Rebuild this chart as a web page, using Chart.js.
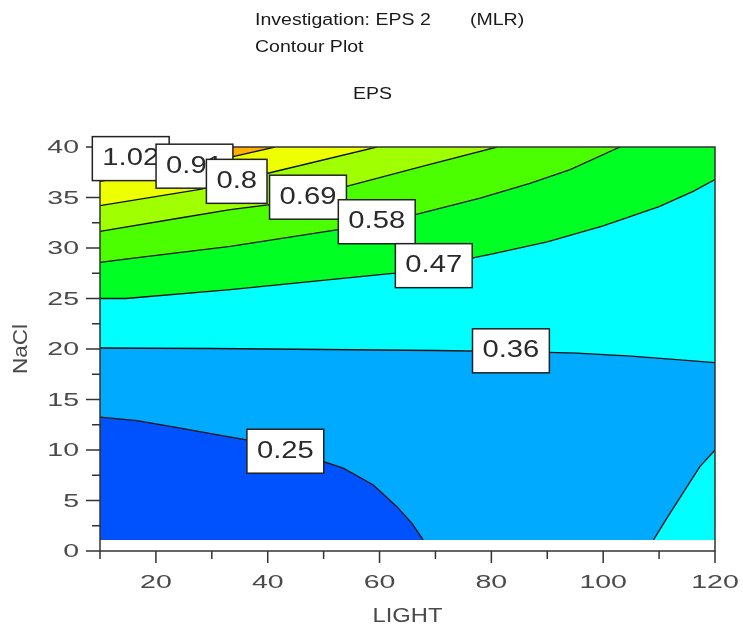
<!DOCTYPE html>
<html>
<head>
<meta charset="utf-8">
<script src="https://cdn.jsdelivr.net/npm/chart.js@4"></script>
<style>
  html, body { margin: 0; padding: 0; background: #fff; }
  #wrap { width: 743px; height: 626px; position: relative; }
</style>
</head>
<body>
<div id="wrap"><canvas id="contour"></canvas></div>
<script>
// 响应面等高线 (LIGHT x NaCl -> EPS)
const levels = [0.25, 0.36, 0.47, 0.58, 0.69, 0.8, 0.91, 1.02];

// 各等高线上的点 [LIGHT, NaCl]
const contour025 = [[10,13.25],[16.6,12.9],[23.1,12.3],[30.3,11.57],[36.2,11.0],[50,8.85],[53.5,8.2],[58.9,6.54],[63.1,4.39],[65.8,2.74],[67.8,1.1]];
const contour036 = [[10,20.1],[30,20.05],[50,19.95],[70,19.85],[85,19.75],[95.3,19.6],[105,19.3],[112,19.0],[120,18.65]];
const contour036b = [[109,1.1],[111.4,3.25],[115,6.38],[117.3,8.35],[120,10]];
const contour047 = [[10,25.0],[14.6,25.0],[33.3,25.87],[62.8,27.52],[76.5,29.0],[80,29.4],[90,30.6],[100,32.2],[110,34.1],[116.1,35.61],[120,36.77]];
const contour058 = [[10,28.57],[16,29.0],[33.3,30.16],[52.6,31.81],[66.4,33.3],[78,34.95],[86.9,36.4],[94.1,37.76],[103,40]];
const contour069 = [[10,31.65],[24.3,32.97],[33.3,33.8],[40.4,34.3],[54.1,36.1],[67.8,38.1],[81,40]];
const contour080 = [[10,34.2],[27.9,35.8],[40.4,37.45],[59.5,40]];
const contour091 = [[10,36.6],[33.8,39.05],[41.3,40]];
const contour102 = [[10,39.3],[15,40]];

// 坐标轴刻度
const lightTicks = [20, 40, 60, 80, 100, 120];
const lightMinorTicks = [10, 30, 50, 70, 90, 110];
const naclTicks = [0, 5, 10, 15, 20, 25, 30, 35, 40];
const naclMinorTicks = [2.5, 7.5, 12.5, 17.5, 22.5, 27.5, 32.5, 37.5];

// 数据范围
const lightRange = [10, 120];
const naclRange = [1.1, 40];

// 标签位置 (数据坐标)
const labelAnchors = {
  '0.25': [43.15, 9.88], '0.36': [83.5, 19.82], '0.47': [69.7, 28.25], '0.58': [59.5, 32.6],
  '0.69': [47.2, 35.03], '0.8': [34.45, 36.6], '0.91': [26.9, 38.1], '1.02': [15.5, 38.85]
};

const [x0, x1] = lightRange;
const [y0, y1] = naclRange;
const pts = arr => arr.map(([x, y]) => ({ x, y }));

// 填色区域: 等高线 + 边角点
const regions = [
  { poly: [[x0,y0],[x1,y0],[x1,y1],[x0,y1]], color: '#00aaff' },
  { poly: [...contour025, [x0,y0]], color: '#0052ff' },
  { poly: [...contour036, [x1,y1],[x0,y1]], color: '#00ffff' },
  { poly: [...contour036b, [x1,y0]], color: '#00ffff' },
  { poly: [...contour047, [x1,y1],[x0,y1]], color: '#00ff22' },
  { poly: [...contour058, [x0,y1]], color: '#4cff00' },
  { poly: [...contour069, [x0,y1]], color: '#a0ff00' },
  { poly: [...contour080, [x0,y1]], color: '#eeff00' },
  { poly: [...contour091, [x0,y1]], color: '#ffb000' },
  { poly: [...contour102, [x0,y1]], color: '#ff6600' }
];

const lines = [contour025, contour036, contour036b, contour047, contour058, contour069, contour080, contour091, contour102];

const datasets = [];
regions.forEach((r, i) => {
  datasets.push({
    data: pts(r.poly),
    fill: 'shape',
    backgroundColor: r.color,
    borderColor: 'rgba(0,0,0,0)',
    borderWidth: 1,
    pointRadius: 0,
    tension: 0,
    order: 100 - i
  });
});
lines.forEach(l => {
  datasets.push({
    data: pts(l),
    fill: false,
    borderColor: '#111',
    borderWidth: 1.3,
    pointRadius: 0,
    tension: 0,
    order: 1
  });
});

// 横向拉伸文字
function stretchText(ctx, text, x, y, sx, align) {
  ctx.save();
  ctx.translate(x, y);
  ctx.scale(sx, 1);
  ctx.textAlign = align;
  ctx.fillText(text, 0, 0);
  ctx.restore();
}

const decor = {
  id: 'decor',
  beforeDraw(chart) {
    const ctx = chart.ctx;
    ctx.save();
    ctx.fillStyle = '#fff';
    ctx.fillRect(0, 0, chart.width, chart.height);
    ctx.fillStyle = '#1a1a1a';
    ctx.font = '16px "Liberation Sans", Arial, sans-serif';
    ctx.textBaseline = 'middle';
    stretchText(ctx, 'Investigation: EPS 2', 255, 21, 1.22, 'left');
    stretchText(ctx, '(MLR)', 470, 21, 1.22, 'left');
    stretchText(ctx, 'Contour Plot', 255, 47.5, 1.22, 'left');
    stretchText(ctx, 'EPS', 372.5, 95, 1.22, 'center');
    ctx.restore();
  },
  afterDatasetsDraw(chart) {
    const ctx = chart.ctx;
    const xs = chart.scales.x, ys = chart.scales.y;
    const { left, right, top, bottom } = chart.chartArea;
    ctx.save();

    // 边框和坐标轴
    ctx.strokeStyle = '#333';
    ctx.lineWidth = 1.5;
    ctx.beginPath();
    ctx.moveTo(left, top); ctx.lineTo(right, top); ctx.lineTo(right, bottom);
    ctx.lineTo(left, bottom); ctx.closePath();
    ctx.stroke();

    // 刻度线
    ctx.beginPath();
    naclTicks.forEach(v => { const py = ys.getPixelForValue(v); ctx.moveTo(left - 14, py); ctx.lineTo(left, py); });
    naclMinorTicks.forEach(v => { const py = ys.getPixelForValue(v); ctx.moveTo(left - 8, py); ctx.lineTo(left, py); });
    lightTicks.forEach(v => { const px = xs.getPixelForValue(v); ctx.moveTo(px, bottom); ctx.lineTo(px, bottom + 12); });
    lightMinorTicks.forEach(v => { const px = xs.getPixelForValue(v); ctx.moveTo(px, bottom); ctx.lineTo(px, bottom + 8); });
    ctx.stroke();

    // 刻度标签
    ctx.fillStyle = '#4a4a4a';
    ctx.font = '19px "Liberation Sans", Arial, sans-serif';
    ctx.textBaseline = 'middle';
    naclTicks.forEach(v => stretchText(ctx, String(v), left - 21, ys.getPixelForValue(v) + 1, 1.5, 'right'));
    lightTicks.forEach(v => stretchText(ctx, String(v), xs.getPixelForValue(v), bottom + 32, 1.5, 'center'));

    // 轴标题
    ctx.font = '21px "Liberation Sans", Arial, sans-serif';
    stretchText(ctx, 'LIGHT', (left + right) / 2, bottom + 65, 1.13, 'center');
    ctx.save();
    ctx.translate(21, (top + bottom) / 2);
    ctx.rotate(-Math.PI / 2);
    stretchText(ctx, 'NaCl', 0, 0, 1.07, 'center');
    ctx.restore();

    // 等高线数值标签
    ctx.font = '23px "Liberation Sans", Arial, sans-serif';
    ctx.lineWidth = 1.5;
    const sx = 1.27;
    levels.slice().reverse().forEach(lv => {
      const txt = String(lv);
      const [ax, ay] = labelAnchors[txt];
      const cx = xs.getPixelForValue(ax), cy = ys.getPixelForValue(ay);
      const w = ctx.measureText(txt).width * sx + 20, h = 44;
      ctx.fillStyle = '#fff';
      ctx.fillRect(cx - w / 2, cy - h / 2, w, h);
      ctx.strokeStyle = '#222';
      ctx.strokeRect(cx - w / 2, cy - h / 2, w, h);
      ctx.fillStyle = '#2a2a2a';
      stretchText(ctx, txt, cx, cy, sx, 'center');
    });
    ctx.restore();
  }
};

new Chart(document.getElementById('contour'), {
  type: 'line',
  data: { datasets },
  options: {
    responsive: true,
    maintainAspectRatio: false,
    animation: false,
    layout: { padding: { left: 0, right: 28, top: 147, bottom: 0 } },
    plugins: { legend: { display: false }, tooltip: { enabled: false } },
    scales: {
      x: {
        type: 'linear', min: lightRange[0], max: lightRange[1],
        ticks: { display: false }, grid: { display: false }, border: { display: false },
        afterFit: s => { s.height = 75; }
      },
      y: {
        type: 'linear', min: 0, max: 40,
        ticks: { display: false }, grid: { display: false }, border: { display: false },
        afterFit: s => { s.width = 100; }
      }
    }
  },
  plugins: [decor]
});
</script>
</body>
</html>
